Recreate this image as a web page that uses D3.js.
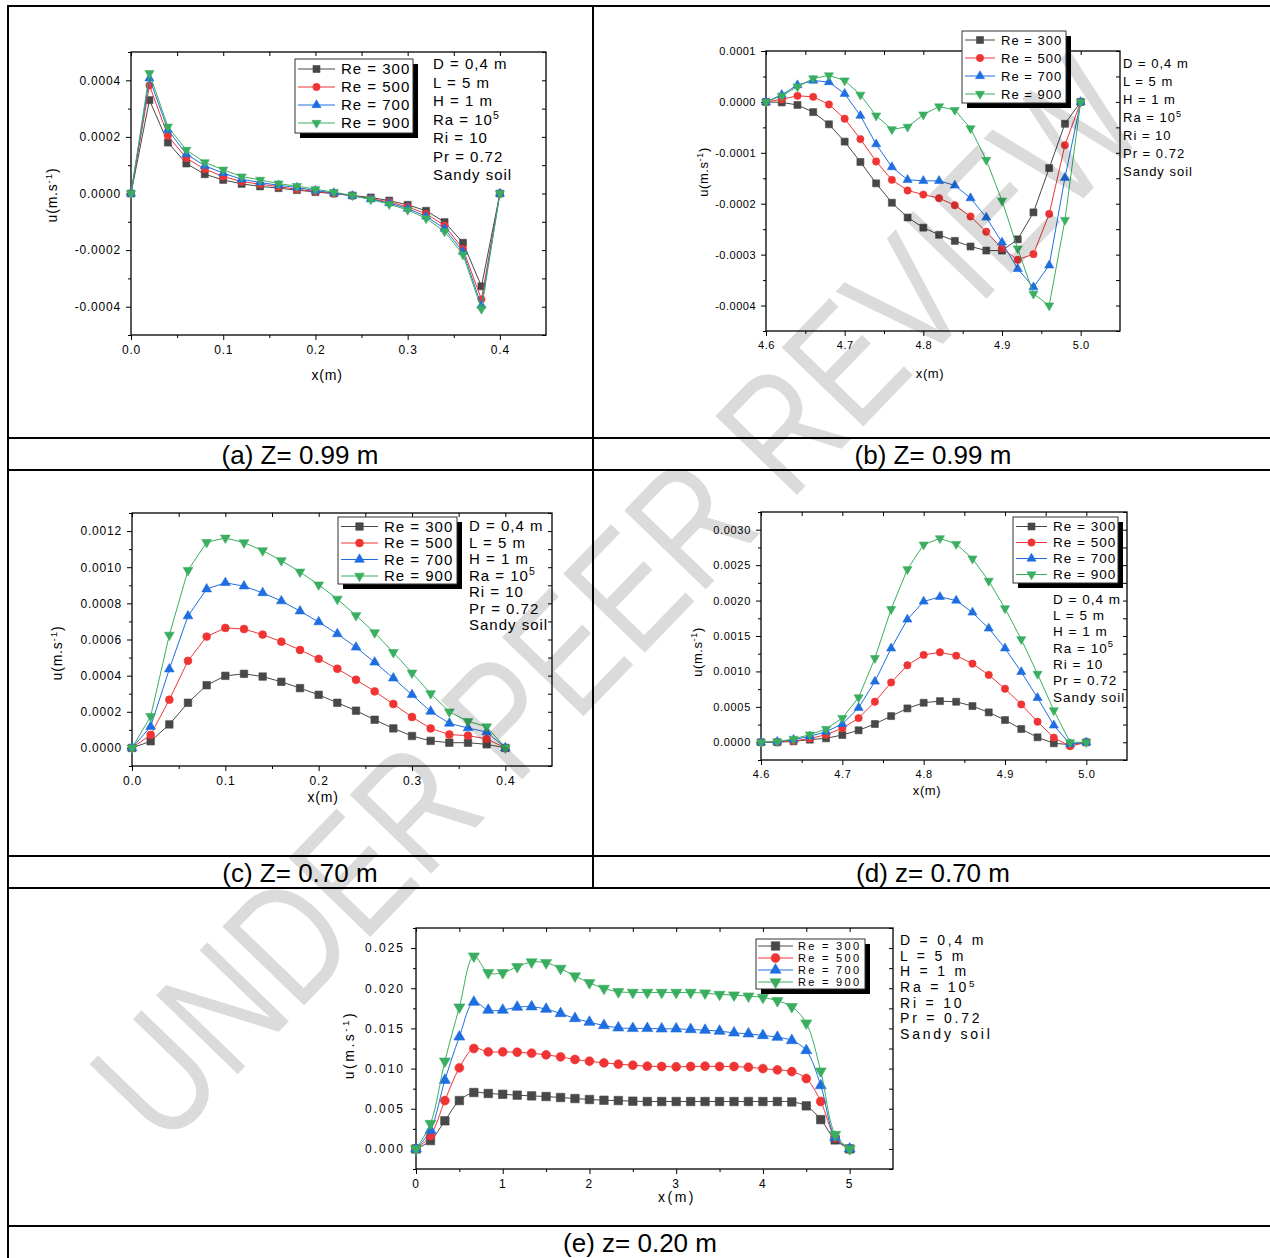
<!DOCTYPE html>
<html>
<head>
<meta charset="utf-8">
<script src="https://cdn.jsdelivr.net/npm/d3@7"></script>
<style>
  body { margin: 0; background: #fff; }
  svg { display: block; font-family: 'Liberation Sans', Arial, sans-serif; }
</style>
</head>
<body>
<div id="chart"></div>
<script>
// Velocity profiles u(x) for four Reynolds numbers, five sections
const reLabels = ['Re = 300', 'Re = 500', 'Re = 700', 'Re = 900'];
const paramLines = ['D = 0,4 m', 'L = 5 m', 'H = 1 m', 'Ra = 10', 'Ri = 10', 'Pr = 0.72', 'Sandy soil'];
const captions = ['(a) Z= 0.99 m', '(b) Z= 0.99 m', '(c) Z= 0.70 m', '(d) z= 0.70 m', '(e) z= 0.20 m'];
const watermarkWords = ['UNDER', 'PEER', 'REVIEW'];

// x positions (m)
const xNear = [0, 0.02, 0.04, 0.06, 0.08, 0.10, 0.12, 0.14, 0.16, 0.18, 0.20, 0.22, 0.24, 0.26, 0.28, 0.30, 0.32, 0.34, 0.36, 0.38, 0.40];
const xFar = [4.60, 4.62, 4.64, 4.66, 4.68, 4.70, 4.72, 4.74, 4.76, 4.78, 4.80, 4.82, 4.84, 4.86, 4.88, 4.90, 4.92, 4.94, 4.96, 4.98, 5.00];
const xFull = [0, 0.167, 0.333, 0.5, 0.667, 0.833, 1, 1.167, 1.333, 1.5, 1.667, 1.833, 2, 2.167, 2.333, 2.5, 2.667, 2.833, 3, 3.167, 3.333, 3.5, 3.667, 3.833, 4, 4.167, 4.333, 4.5, 4.667, 4.833, 5];

// (a) Z = 0.99 m, near inlet
const a300 = [0, 3.30e-4, 1.80e-4, 1.06e-4, 0.68e-4, 0.48e-4, 0.34e-4, 0.25e-4, 0.19e-4, 0.12e-4, 0.05e-4, 0, -0.07e-4, -0.14e-4, -0.25e-4, -0.40e-4, -0.61e-4, -1.01e-4, -1.74e-4, -3.28e-4, 0];
const a500 = [0, 3.82e-4, 2.04e-4, 1.25e-4, 0.86e-4, 0.60e-4, 0.42e-4, 0.33e-4, 0.24e-4, 0.15e-4, 0.07e-4, 0, -0.08e-4, -0.18e-4, -0.30e-4, -0.47e-4, -0.72e-4, -1.13e-4, -1.96e-4, -3.74e-4, 0];
const a700 = [0, 4.07e-4, 2.25e-4, 1.39e-4, 0.98e-4, 0.72e-4, 0.50e-4, 0.39e-4, 0.29e-4, 0.21e-4, 0.10e-4, 0.02e-4, -0.08e-4, -0.20e-4, -0.34e-4, -0.53e-4, -0.81e-4, -1.24e-4, -2.06e-4, -3.96e-4, 0];
const a900 = [0, 4.25e-4, 2.36e-4, 1.54e-4, 1.10e-4, 0.84e-4, 0.60e-4, 0.48e-4, 0.35e-4, 0.26e-4, 0.15e-4, 0.05e-4, -0.07e-4, -0.21e-4, -0.38e-4, -0.58e-4, -0.88e-4, -1.34e-4, -2.16e-4, -4.08e-4, 0];

// (b) Z = 0.99 m, near outlet
const b300 = [0, -0.01e-4, -0.06e-4, -0.20e-4, -0.44e-4, -0.78e-4, -1.18e-4, -1.60e-4, -1.98e-4, -2.27e-4, -2.47e-4, -2.61e-4, -2.73e-4, -2.84e-4, -2.92e-4, -2.92e-4, -2.70e-4, -2.17e-4, -1.30e-4, -0.43e-4, 0];
const b500 = [0, 0.05e-4, 0.12e-4, 0.10e-4, -0.05e-4, -0.33e-4, -0.73e-4, -1.17e-4, -1.53e-4, -1.74e-4, -1.82e-4, -1.89e-4, -2.03e-4, -2.25e-4, -2.55e-4, -2.88e-4, -3.10e-4, -2.99e-4, -2.20e-4, -0.85e-4, 0];
const b700 = [0, 0.14e-4, 0.33e-4, 0.42e-4, 0.39e-4, 0.16e-4, -0.27e-4, -0.83e-4, -1.28e-4, -1.53e-4, -1.55e-4, -1.55e-4, -1.64e-4, -1.89e-4, -2.27e-4, -2.76e-4, -3.28e-4, -3.64e-4, -3.21e-4, -1.49e-4, 0];
const b900 = [0, 0.12e-4, 0.30e-4, 0.46e-4, 0.52e-4, 0.42e-4, 0.14e-4, -0.27e-4, -0.54e-4, -0.49e-4, -0.25e-4, -0.09e-4, -0.16e-4, -0.52e-4, -1.14e-4, -1.94e-4, -2.88e-4, -3.77e-4, -4.00e-4, -2.32e-4, 0];

// (c) Z = 0.70 m, near inlet
const c300 = [0, 0.37e-4, 1.30e-4, 2.50e-4, 3.47e-4, 3.99e-4, 4.10e-4, 3.95e-4, 3.66e-4, 3.31e-4, 2.94e-4, 2.50e-4, 2.06e-4, 1.56e-4, 1.08e-4, 0.66e-4, 0.39e-4, 0.29e-4, 0.29e-4, 0.20e-4, 0];
const c500 = [0, 0.72e-4, 2.67e-4, 4.82e-4, 6.16e-4, 6.64e-4, 6.58e-4, 6.27e-4, 5.88e-4, 5.42e-4, 4.93e-4, 4.38e-4, 3.77e-4, 3.13e-4, 2.43e-4, 1.71e-4, 1.08e-4, 0.74e-4, 0.68e-4, 0.50e-4, 0];
const c700 = [0, 1.18e-4, 4.36e-4, 7.30e-4, 8.79e-4, 9.14e-4, 8.95e-4, 8.58e-4, 8.13e-4, 7.57e-4, 6.97e-4, 6.31e-4, 5.57e-4, 4.74e-4, 3.86e-4, 2.94e-4, 2.02e-4, 1.36e-4, 1.10e-4, 0.88e-4, 0];
const c900 = [0, 1.75e-4, 6.25e-4, 9.83e-4, 11.38e-4, 11.62e-4, 11.36e-4, 10.92e-4, 10.37e-4, 9.74e-4, 9.03e-4, 8.24e-4, 7.33e-4, 6.38e-4, 5.29e-4, 4.15e-4, 3.01e-4, 2.00e-4, 1.47e-4, 1.18e-4, 0];

// (d) Z = 0.70 m, near outlet
const d300 = [0, 0, 0.14e-4, 0.37e-4, 0.56e-4, 1.03e-4, 1.69e-4, 2.58e-4, 3.70e-4, 4.78e-4, 5.58e-4, 5.81e-4, 5.72e-4, 5.11e-4, 4.22e-4, 3.14e-4, 1.87e-4, 0.70e-4, -0.14e-4, -0.33e-4, 0];
const d500 = [0, 0.05e-4, 0.19e-4, 0.52e-4, 1.08e-4, 1.97e-4, 3.42e-4, 5.72e-4, 8.44e-4, 10.87e-4, 12.33e-4, 12.70e-4, 12.23e-4, 11.10e-4, 9.51e-4, 7.55e-4, 5.34e-4, 2.90e-4, 0.66e-4, -0.56e-4, 0];
const d700 = [0, 0.09e-4, 0.37e-4, 0.84e-4, 1.50e-4, 2.58e-4, 4.87e-4, 8.58e-4, 13.26e-4, 17.34e-4, 19.87e-4, 20.52e-4, 20.01e-4, 18.32e-4, 16.07e-4, 13.26e-4, 9.93e-4, 6.28e-4, 2.39e-4, -0.23e-4, 0];
const d900 = [0, 0.09e-4, 0.47e-4, 1.08e-4, 1.87e-4, 3.42e-4, 6.33e-4, 11.86e-4, 18.79e-4, 24.42e-4, 27.89e-4, 28.78e-4, 27.98e-4, 25.92e-4, 22.78e-4, 18.89e-4, 14.53e-4, 9.65e-4, 4.50e-4, 0, 0];

// (e) z = 0.20 m, full length
const e300 = [0, 1.04e-3, 3.50e-3, 6.02e-3, 7.02e-3, 6.90e-3, 6.80e-3, 6.69e-3, 6.60e-3, 6.52e-3, 6.40e-3, 6.27e-3, 6.15e-3, 6.06e-3, 6.02e-3, 5.94e-3, 5.90e-3, 5.90e-3, 5.90e-3, 5.90e-3, 5.90e-3, 5.90e-3, 5.90e-3, 5.90e-3, 5.90e-3, 5.90e-3, 5.85e-3, 5.36e-3, 3.65e-3, 1.12e-3, 0];
const e500 = [0, 1.66e-3, 6.02e-3, 10.09e-3, 12.50e-3, 12.08e-3, 12.08e-3, 12.04e-3, 11.92e-3, 11.71e-3, 11.46e-3, 11.13e-3, 10.92e-3, 10.71e-3, 10.55e-3, 10.42e-3, 10.30e-3, 10.26e-3, 10.22e-3, 10.26e-3, 10.30e-3, 10.26e-3, 10.26e-3, 10.17e-3, 10.00e-3, 9.84e-3, 9.63e-3, 8.76e-3, 5.90e-3, 1.41e-3, 0];
const e700 = [0, 2.33e-3, 8.55e-3, 13.95e-3, 18.27e-3, 17.28e-3, 17.28e-3, 17.65e-3, 17.70e-3, 17.40e-3, 16.86e-3, 16.24e-3, 15.78e-3, 15.37e-3, 15.08e-3, 15.00e-3, 15.00e-3, 14.95e-3, 14.95e-3, 14.87e-3, 14.78e-3, 14.66e-3, 14.45e-3, 14.33e-3, 14.12e-3, 13.91e-3, 13.50e-3, 12.25e-3, 7.89e-3, 1.45e-3, 0];
const e900 = [0, 3.16e-3, 10.92e-3, 17.65e-3, 24.00e-3, 21.93e-3, 21.93e-3, 22.68e-3, 23.26e-3, 23.17e-3, 22.47e-3, 21.52e-3, 20.68e-3, 19.98e-3, 19.56e-3, 19.48e-3, 19.48e-3, 19.48e-3, 19.48e-3, 19.48e-3, 19.40e-3, 19.23e-3, 19.15e-3, 19.02e-3, 18.86e-3, 18.44e-3, 17.70e-3, 15.66e-3, 9.68e-3, 1.79e-3, 0];

// tick values
const xTicksNear = [0, 0.1, 0.2, 0.3, 0.4];
const xMinorNear = [0.05, 0.15, 0.25, 0.35, 0.45];
const xTicksFar = [4.6, 4.7, 4.8, 4.9, 5.0];
const xMinorFar = [4.65, 4.75, 4.85, 4.95, 5.05];
const xTicksFull = [0, 1, 2, 3, 4, 5];
const xMinorFull = [0.5, 1.5, 2.5, 3.5, 4.5, 5.5];
const yTicksA = [-0.0004, -0.0002, 0, 0.0002, 0.0004];
const yMinorA = [-0.0005, -0.0003, -0.0001, 0.0001, 0.0003, 0.0005];
const yTicksB = [-0.0004, -0.0003, -0.0002, -0.0001, 0, 0.0001];
const yMinorB = [-0.00045, -0.00035, -0.00025, -0.00015, -0.00005, 0.00005];
const yTicksC = [0, 0.0002, 0.0004, 0.0006, 0.0008, 0.0010, 0.0012];
const yMinorC = [-0.0001, 0.0001, 0.0003, 0.0005, 0.0007, 0.0009, 0.0011, 0.0013];
const yTicksD = [0, 0.0005, 0.0010, 0.0015, 0.0020, 0.0025, 0.0030];
const yMinorD = [-0.00025, 0.00025, 0.00075, 0.00125, 0.00175, 0.00225, 0.00275, 0.00325];
const yTicksE = [0, 0.005, 0.010, 0.015, 0.020, 0.025];
const yMinorE = [-0.0025, 0.0025, 0.0075, 0.0125, 0.0175, 0.0225, 0.0275];

const colors = ['#484848', '#f03434', '#1f6ee0', '#3aae60'];
const symbols = ['square', 'circle', 'up', 'down'];

const svg = d3.select('#chart').append('svg')
    .attr('width', 1270)
    .attr('height', 1258);

const fmtMinus = f => v => d3.format(f)(v).replace('\u2212', '-');

function marker(sel, kind, cx, cy, m, color) {
    let path;
    if (kind === 'square') {
        path = d3.symbol(d3.symbolSquare, m * m)();
    } else if (kind === 'circle') {
        path = d3.symbol(d3.symbolCircle, Math.PI * m * m / 4 * 1.1)();
    } else {
        path = d3.symbol(d3.symbolTriangle, Math.sqrt(3) / 4 * Math.pow(m * 1.3, 2))();
    }
    const rot = kind === 'down' ? ' rotate(180)' : '';
    sel.append('path')
        .attr('d', path)
        .attr('transform', `translate(${cx},${cy})${rot}`)
        .attr('fill', color)
        .attr('stroke', color)
        .attr('stroke-width', 0.6);
}

function styleTicks(axisG, p) {
    axisG.select('.domain').remove();
    axisG.selectAll('text')
        .attr('font-family', "'Liberation Sans', Arial, sans-serif")
        .attr('font-size', p.tickFont)
        .attr('letter-spacing', p.tickLs)
        .attr('fill', '#000');
}

function drawPanel(p) {
    const g = svg.append('g');
    const x = d3.scaleLinear().domain(p.xDomain).range([p.left, p.right]);
    const y = d3.scaleLinear().domain(p.yDomain).range([p.bottom, p.top]);

    // axes (left/bottom out, top/right in)
    const bAx = g.append('g').attr('transform', `translate(0,${p.bottom})`)
        .call(d3.axisBottom(x).tickValues(p.xTicks).tickSize(5).tickPadding(p.xPad).tickFormat(p.xFmt));
    styleTicks(bAx, p);
    const bMin = g.append('g').attr('transform', `translate(0,${p.bottom})`)
        .call(d3.axisBottom(x).tickValues(p.xMinor.filter(v => v < p.xDomain[1])).tickSize(3).tickFormat(''));
    styleTicks(bMin, p);
    const tAx = g.append('g').attr('transform', `translate(0,${p.top})`)
        .call(d3.axisTop(x).tickValues(p.xTicks.concat(p.xMinor.filter(v => v < p.xDomain[1]))).tickSize(-4).tickFormat(''));
    styleTicks(tAx, p);

    const lAx = g.append('g').attr('transform', `translate(${p.left},0)`)
        .call(d3.axisLeft(y).tickValues(p.yTicks).tickSize(5).tickPadding(p.yPad).tickFormat(p.yFmt));
    styleTicks(lAx, p);
    const lMin = g.append('g').attr('transform', `translate(${p.left},0)`)
        .call(d3.axisLeft(y).tickValues(p.yMinor).tickSize(3).tickFormat(''));
    styleTicks(lMin, p);
    const rAx = g.append('g').attr('transform', `translate(${p.right},0)`)
        .call(d3.axisRight(y).tickValues(p.yTicks.concat(p.yMinor)).tickSize(-4).tickFormat(''));
    styleTicks(rAx, p);

    g.append('rect')
        .attr('x', p.left).attr('y', p.top)
        .attr('width', p.right - p.left).attr('height', p.bottom - p.top)
        .attr('fill', 'none').attr('stroke', '#000').attr('stroke-width', 1.3);

    // series
    const line = d3.line().x(d => x(d[0])).y(d => y(d[1])).curve(p.curve);
    p.series.forEach((vals, i) => {
        const pts = p.xs.map((xv, k) => [xv, vals[k]]);
        g.append('path').attr('d', line(pts))
            .attr('fill', 'none').attr('stroke', colors[i]).attr('stroke-width', 1);
        const mg = g.append('g');
        pts.forEach(d => marker(mg, symbols[i], x(d[0]), y(d[1]), p.m, colors[i]));
    });

    // axis titles
    g.append('text')
        .attr('x', p.xLab[0]).attr('y', p.xLab[1])
        .attr('text-anchor', 'middle').attr('dy', '0.35em')
        .attr('font-size', p.labFont).attr('letter-spacing', p.labLs)
        .text('x(m)');
    const yl = g.append('text')
        .attr('transform', `translate(${p.yLab[0]},${p.yLab[1]}) rotate(-90)`)
        .attr('text-anchor', 'middle').attr('dy', '0.35em')
        .attr('font-size', p.labFont).attr('letter-spacing', p.labLs);
    yl.append('tspan').text('u(m.s');
    yl.append('tspan').attr('font-size', p.labFont * 0.7).attr('dy', '-0.5em').text('-1');
    yl.append('tspan').attr('dy', '0.35em').text(')');

    // legend with drop shadow
    const L = p.legend;
    g.append('rect').attr('x', L.x + 5).attr('y', L.y + 5)
        .attr('width', L.w).attr('height', L.h).attr('fill', '#000');
    g.append('rect').attr('x', L.x).attr('y', L.y)
        .attr('width', L.w).attr('height', L.h)
        .attr('fill', '#fff').attr('stroke', '#333').attr('stroke-width', 1);
    reLabels.forEach((lab, i) => {
        const ry = L.y + L.first + i * L.step;
        g.append('line')
            .attr('x1', L.x + L.l0).attr('x2', L.x + L.l1)
            .attr('y1', ry).attr('y2', ry)
            .attr('stroke', colors[i]).attr('stroke-width', 1);
        marker(g, symbols[i], L.x + (L.l0 + L.l1) / 2, ry, p.m, colors[i]);
        g.append('text')
            .attr('x', L.x + L.tx).attr('y', ry).attr('dy', '0.35em')
            .attr('font-size', L.font).attr('letter-spacing', L.ls)
            .text(lab);
    });

    // parameter block
    const P = p.params;
    paramLines.forEach((txt, i) => {
        const t = g.append('text')
            .attr('x', P.x).attr('y', P.y + i * P.step).attr('dy', '0.35em')
            .attr('font-size', P.font).attr('letter-spacing', P.ls);
        t.append('tspan').text(txt);
        if (txt.startsWith('Ra')) {
            t.append('tspan').attr('font-size', P.font * 0.7).attr('dy', '-0.55em').text('5');
        }
    });
}

const fNear = d3.format('.1f');
const fFar = d3.format('.1f');

// (a)
drawPanel({
    left: 131, right: 546, top: 52, bottom: 335,
    xDomain: [0, 0.45], yDomain: [-0.0005, 0.0005],
    xTicks: xTicksNear, xMinor: xMinorNear, yTicks: yTicksA, yMinor: yMinorA,
    xFmt: fNear, yFmt: fmtMinus('.4f'), tickFont: 12, tickLs: 0.8, xPad: 5, yPad: 5,
    xs: xNear, series: [a300, a500, a700, a900], curve: d3.curveLinear, m: 7,
    xLab: [327, 375], yLab: [52, 195], labFont: 14, labLs: 0.8,
    legend: { x: 295, y: 59, w: 118, h: 74, first: 10, step: 18, l0: 3, l1: 40, tx: 46, font: 15, ls: 1 },
    params: { x: 433, y: 64, step: 18.5, font: 15, ls: 1 }
});

// (b)
drawPanel({
    left: 766, right: 1120, top: 51, bottom: 331,
    xDomain: [4.6, 5.05], yDomain: [-0.00045, 0.0001],
    xTicks: xTicksFar, xMinor: xMinorFar, yTicks: yTicksB, yMinor: yMinorB,
    xFmt: fFar, yFmt: fmtMinus('.4f'), tickFont: 11, tickLs: 0.5, xPad: 5, yPad: 5,
    xs: xFar, series: [b300, b500, b700, b900], curve: d3.curveLinear, m: 7,
    xLab: [930, 373], yLab: [703, 172], labFont: 13, labLs: 0.6,
    legend: { x: 962, y: 31, w: 104, h: 72, first: 9, step: 18, l0: 3, l1: 33, tx: 39, font: 13, ls: 1 },
    params: { x: 1123, y: 63, step: 18, font: 13, ls: 1 }
});

// (c)
drawPanel({
    left: 132, right: 552, top: 513, bottom: 766,
    xDomain: [0, 0.45], yDomain: [-0.0001, 0.0013],
    xTicks: xTicksNear, xMinor: xMinorNear, yTicks: yTicksC, yMinor: yMinorC,
    xFmt: fNear, yFmt: fmtMinus('.4f'), tickFont: 12, tickLs: 0.8, xPad: 5, yPad: 5,
    xs: xNear, series: [c300, c500, c700, c900], curve: d3.curveLinear, m: 7.5,
    xLab: [323, 797], yLab: [57, 653], labFont: 14, labLs: 0.8,
    legend: { x: 338, y: 517, w: 119, h: 67, first: 9.5, step: 16.5, l0: 3, l1: 40, tx: 46, font: 15, ls: 1 },
    params: { x: 469, y: 526, step: 16.5, font: 15, ls: 1 }
});

// (d)
drawPanel({
    left: 761, right: 1127, top: 512, bottom: 760,
    xDomain: [4.6, 5.05], yDomain: [-0.00025, 0.00325],
    xTicks: xTicksFar, xMinor: xMinorFar, yTicks: yTicksD, yMinor: yMinorD,
    xFmt: fFar, yFmt: fmtMinus('.4f'), tickFont: 11, tickLs: 0.7, xPad: 5, yPad: 5,
    xs: xFar, series: [d300, d500, d700, d900], curve: d3.curveLinear, m: 7,
    xLab: [927, 790], yLab: [697, 652], labFont: 13, labLs: 0.6,
    legend: { x: 1013, y: 517, w: 105, h: 66, first: 9.5, step: 16, l0: 3, l1: 34, tx: 40, font: 13.5, ls: 1 },
    params: { x: 1053, y: 599, step: 16.3, font: 13.5, ls: 1 }
});

// (e)
drawPanel({
    left: 416, right: 893, top: 928, bottom: 1169,
    xDomain: [0, 5.5], yDomain: [-0.0025, 0.0275],
    xTicks: xTicksFull, xMinor: xMinorFull, yTicks: yTicksE, yMinor: yMinorE,
    xFmt: d3.format('d'), yFmt: fmtMinus('.3f'), tickFont: 12, tickLs: 2, xPad: 5, yPad: 6,
    xs: xFull, series: [e300, e500, e700, e900], curve: d3.curveCatmullRom.alpha(0.5), m: 8.5,
    xLab: [677, 1197], yLab: [349, 1045], labFont: 14, labLs: 2.5,
    legend: { x: 756, y: 939, w: 109, h: 50, first: 7, step: 12, l0: 2, l1: 37, tx: 42, font: 11, ls: 2.3 },
    params: { x: 900, y: 940, step: 15.7, font: 14, ls: 2.8 }
});

// table grid
const grid = svg.append('g').attr('stroke', '#000').attr('stroke-width', 2);
grid.append('line').attr('x1', 8).attr('x2', 8).attr('y1', 6).attr('y2', 1258);
grid.append('line').attr('x1', 593).attr('x2', 593).attr('y1', 6).attr('y2', 888);
[6, 438, 470, 856, 888, 1226].forEach(yy => {
    grid.append('line').attr('x1', 7).attr('x2', 1270).attr('y1', yy).attr('y2', yy);
});

// captions
const capPos = [[300, 455], [933, 455], [300, 873], [933, 873], [640, 1243]];
captions.forEach((c, i) => {
    svg.append('text')
        .attr('x', capPos[i][0]).attr('y', capPos[i][1]).attr('dy', '0.35em')
        .attr('text-anchor', 'middle')
        .attr('font-size', 26)
        .text(c);
});

// watermark, one word at a time along the diagonal, squeezed horizontally
const wm = svg.append('g').attr('transform', 'translate(615,598) rotate(-46)');
const wmCenters = [-476, -26, 450];
const wmScaleX = [0.80, 0.80, 0.80];
watermarkWords.forEach((w, i) => {
    wm.append('g')
        .attr('transform', `translate(${wmCenters[i]},0) scale(${wmScaleX[i]},1)`)
        .append('text')
        .attr('x', 0).attr('y', 0)
        .attr('text-anchor', 'middle').attr('dy', '0.36em')
        .attr('font-size', 165)
        .attr('fill', '#000').attr('fill-opacity', 0.14)
        .text(w);
});
</script>
</body>
</html>
